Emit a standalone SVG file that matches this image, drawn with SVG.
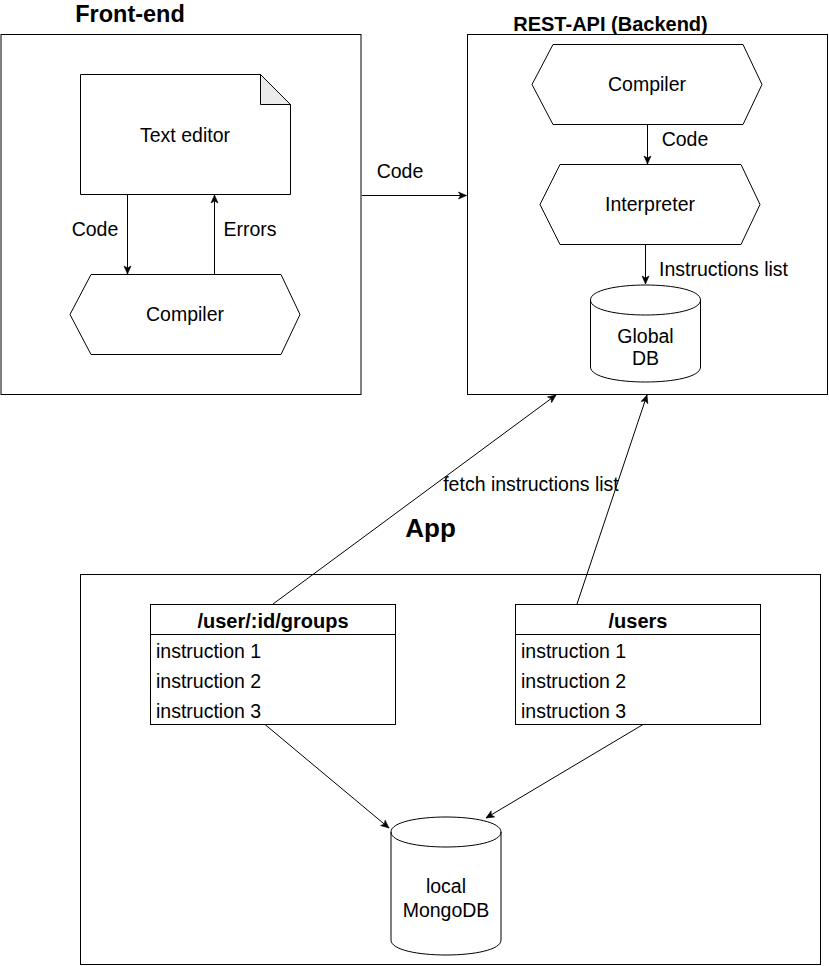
<svg xmlns="http://www.w3.org/2000/svg" width="829" height="966" viewBox="0 0 829 966">
<style>
  .box{fill:#fff;stroke:#000;stroke-width:1}
  .t{font-family:"Liberation Sans",Arial,Helvetica,sans-serif;font-size:19.5px;fill:#000}
  .b{font-weight:bold}
  .c{text-anchor:middle}
  .e{fill:none;stroke:#000;stroke-width:1}
</style>
<defs>
  <marker id="arr" markerUnits="userSpaceOnUse" markerWidth="10" markerHeight="8" refX="8" refY="3.5" orient="auto" overflow="visible">
    <path d="M0,0 L8,3.5 L0,7 L2,3.5 Z" fill="#000" stroke="#000" stroke-width="0.6"/>
  </marker>
</defs>
<rect width="829" height="966" fill="#fff"/>

<g id="frontend">
  <rect class="box" x="1" y="34.5" width="360" height="360"/>
  <text class="t b c" x="130" y="22" style="font-size:23.5px">Front-end</text>
</g>
<g id="texteditor">
  <path class="box" d="M80.5,74.5 H260.5 L290.5,104.5 V194.5 H80.5 Z"/>
  <path d="M260.5,74.5 V104.5 H290.5 Z" fill="#ebebeb" stroke="#000" stroke-width="1"/>
  <text class="t c" x="185" y="141.5">Text editor</text>
</g>
<g id="fe-compiler">
  <path class="box" d="M91,274.5 H281 L300,314.5 L281,354.5 H91 L70,314.5 Z"/>
  <text class="t c" x="185" y="321">Compiler</text>
</g>

<g id="backend">
  <rect class="box" x="467.5" y="34.5" width="360" height="360"/>
  <text class="t b c" x="610.5" y="30.5" style="font-size:20px">REST-API (Backend)</text>
</g>
<g id="be-compiler">
  <path class="box" d="M553,44.5 H743 L762,84.5 L743,124.5 H553 L532,84.5 Z"/>
  <text class="t c" x="647" y="90.5">Compiler</text>
</g>
<g id="interpreter">
  <path class="box" d="M560,164.5 H741 L760,204.5 L741,244.5 H560 L540,204.5 Z"/>
  <text class="t c" x="650" y="210.5">Interpreter</text>
</g>
<g id="globaldb">
  <path class="box" d="M590.5,300 C590.5,280 700.5,280 700.5,300 V367 C700.5,387 590.5,387 590.5,367 Z"/>
  <path class="e" d="M590.5,300 C590.5,320 700.5,320 700.5,300"/>
  <text class="t c" x="645.5" y="342.5">Global</text>
  <text class="t c" x="645.5" y="365">DB</text>
</g>

<g id="app">
  <rect class="box" x="80.5" y="574.5" width="740" height="390"/>
  <text class="t b c" x="430.5" y="537" style="font-size:26px">App</text>
</g>
<g id="groups">
  <rect class="box" x="150.5" y="604.5" width="245" height="120"/>
  <line class="e" x1="150.5" y1="634.5" x2="395.5" y2="634.5"/>
  <text class="t b c" x="273" y="628" style="font-size:20px">/user/:id/groups</text>
  <text class="t" x="156" y="658">instruction 1</text>
  <text class="t" x="156" y="688">instruction 2</text>
  <text class="t" x="156" y="717.5">instruction 3</text>
</g>
<g id="users">
  <rect class="box" x="515.5" y="604.5" width="245" height="120"/>
  <line class="e" x1="515.5" y1="634.5" x2="760.5" y2="634.5"/>
  <text class="t b c" x="638" y="628" style="font-size:20px">/users</text>
  <text class="t" x="521" y="658">instruction 1</text>
  <text class="t" x="521" y="688">instruction 2</text>
  <text class="t" x="521" y="717.5">instruction 3</text>
</g>
<g id="mongodb">
  <path class="box" d="M391,832 C391,812 501,812 501,832 V940 C501,960 391,960 391,940 Z"/>
  <path class="e" d="M391,832 C391,852 501,852 501,832"/>
  <text class="t c" x="446" y="892.5">local</text>
  <text class="t c" x="446" y="916.5">MongoDB</text>
</g>

<g id="connectors">
  <line class="e" x1="127.5" y1="194.5" x2="127.5" y2="274" marker-end="url(#arr)"/>
  <text class="t c" x="95" y="235.5">Code</text>
  <line class="e" x1="214.5" y1="274.5" x2="214.5" y2="195" marker-end="url(#arr)"/>
  <text class="t c" x="250" y="235.5">Errors</text>
  <line class="e" x1="362" y1="195.5" x2="466.5" y2="195.5" marker-end="url(#arr)"/>
  <text class="t c" x="400" y="178">Code</text>
  <line class="e" x1="647.5" y1="124.5" x2="647.5" y2="164" marker-end="url(#arr)"/>
  <text class="t c" x="685" y="145.5">Code</text>
  <line class="e" x1="645.5" y1="244.5" x2="645.5" y2="284" marker-end="url(#arr)"/>
  <text class="t" x="659" y="276">Instructions list</text>
  <line class="e" x1="273" y1="604" x2="556" y2="395" marker-end="url(#arr)"/>
  <line class="e" x1="577" y1="604" x2="647" y2="395" marker-end="url(#arr)"/>
  <text class="t c" x="531" y="490.5">fetch instructions list</text>
  <line class="e" x1="265" y1="724.5" x2="389" y2="828" marker-end="url(#arr)"/>
  <line class="e" x1="643" y1="724.5" x2="486" y2="818" marker-end="url(#arr)"/>
</g>
</svg>
